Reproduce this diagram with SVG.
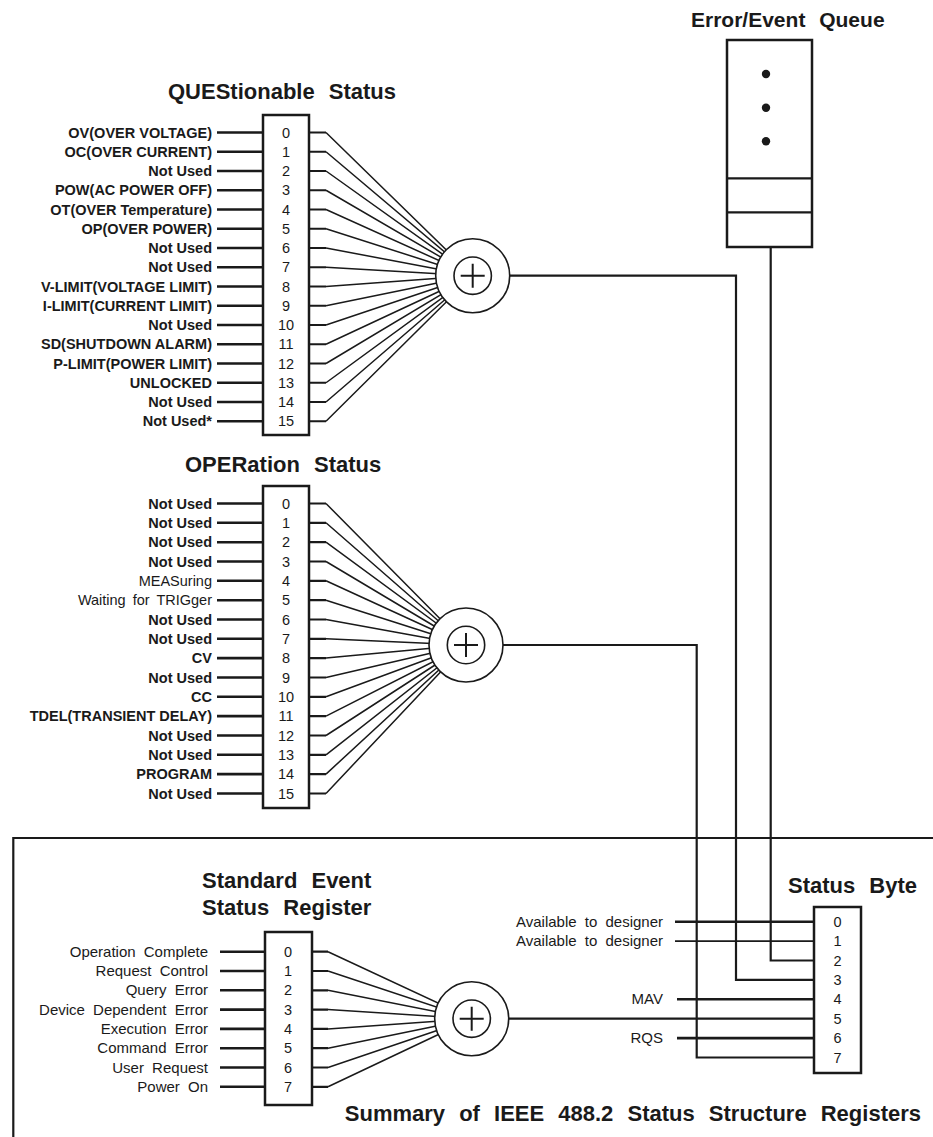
<svg xmlns="http://www.w3.org/2000/svg" width="933" height="1137" viewBox="0 0 933 1137">
<style>
.t{font-family:"Liberation Sans",Arial,Helvetica,sans-serif;fill:#1a1a1a}
.title{font-size:22px;font-weight:bold;word-spacing:8px}
.lb{font-size:14.5px;font-weight:bold;text-anchor:end}
.lr{font-size:15px;text-anchor:end;word-spacing:4px}
.dg{font-size:14.5px;text-anchor:middle}
.box{fill:#fff;stroke:#1a1a1a;stroke-width:2.5}
.in{stroke:#1a1a1a;stroke-width:2.6;fill:none}
.in2{stroke:#1a1a1a;stroke-width:1.8;fill:none}
.stub{stroke:#1a1a1a;stroke-width:2.2;fill:none}
.fan{stroke:#1a1a1a;stroke-width:1.5;fill:none}
.wire{stroke:#1a1a1a;stroke-width:2.2;fill:none}
.sum{fill:#fff;stroke:#1a1a1a;stroke-width:1.6}
.plus{stroke:#1a1a1a;stroke-width:2;fill:none}
</style>
<defs>
<g id="summer">
<circle class="sum" cx="0" cy="0" r="37"/>
<circle class="sum" cx="0" cy="0" r="18.7"/>
<path class="plus" d="M-12 0H12M0 -12V12"/>
</g>
</defs>

<g id="connectors">
<path class="in" d="M217 132.5H263M217 151.75H263M217 171H263M217 190.25H263M217 209.5H263M217 228.75H263M217 248H263M217 267.25H263M217 286.5H263M217 305.75H263M217 325H263M217 344.25H263M217 363.5H263M217 382.75H263M217 402H263M217 421.25H263"/>
<path class="stub" d="M309 132.5H326M309 151.75H326M309 171H326M309 190.25H326M309 209.5H326M309 228.75H326M309 248H326M309 267.25H326M309 286.5H326M309 305.75H326M309 325H326M309 344.25H326M309 363.5H326M309 382.75H326M309 402H326M309 421.25H326"/>
<path class="fan" d="M326 132.5L472.7 275.7M326 151.75L472.7 275.7M326 171L472.7 275.7M326 190.25L472.7 275.7M326 209.5L472.7 275.7M326 228.75L472.7 275.7M326 248L472.7 275.7M326 267.25L472.7 275.7M326 286.5L472.7 275.7M326 305.75L472.7 275.7M326 325L472.7 275.7M326 344.25L472.7 275.7M326 363.5L472.7 275.7M326 382.75L472.7 275.7M326 402L472.7 275.7M326 421.25L472.7 275.7"/>
<path class="in" d="M217 503.5H263M217 522.8H263M217 542.2H263M217 561.5H263M217 580.8H263M217 600.2H263M217 619.5H263M217 638.8H263M217 658.1H263M217 677.5H263M217 696.8H263M217 716.1H263M217 735.5H263M217 754.8H263M217 774.1H263M217 793.5H263"/>
<path class="stub" d="M309 503.5H326M309 522.8H326M309 542.2H326M309 561.5H326M309 580.8H326M309 600.2H326M309 619.5H326M309 638.8H326M309 658.1H326M309 677.5H326M309 696.8H326M309 716.1H326M309 735.5H326M309 754.8H326M309 774.1H326M309 793.5H326"/>
<path class="fan" d="M326 503.5L466 645M326 522.8L466 645M326 542.2L466 645M326 561.5L466 645M326 580.8L466 645M326 600.2L466 645M326 619.5L466 645M326 638.8L466 645M326 658.1L466 645M326 677.5L466 645M326 696.8L466 645M326 716.1L466 645M326 735.5L466 645M326 754.8L466 645M326 774.1L466 645M326 793.5L466 645"/>
<path class="in" d="M220 951.7H265M220 971H265M220 990.3H265M220 1009.6H265M220 1028.9H265M220 1048.2H265M220 1067.5H265M220 1086.8H265"/>
<path class="stub" d="M312 951.7H328M312 971H328M312 990.3H328M312 1009.6H328M312 1028.9H328M312 1048.2H328M312 1067.5H328M312 1086.8H328"/>
<path class="fan" d="M328 951.7L471.7 1018.7M328 971L471.7 1018.7M328 990.3L471.7 1018.7M328 1009.6L471.7 1018.7M328 1028.9L471.7 1018.7M328 1048.2L471.7 1018.7M328 1067.5L471.7 1018.7M328 1086.8L471.7 1018.7"/>
<path class="wire" d="M510 275.7H736V979.9H814"/>
<path class="wire" d="M503 645H696.7V1057.5H814"/>
<path class="wire" d="M770.7 247V960.5H814"/>
<path class="wire" d="M508 1018.7H814"/>
<path class="in" d="M675 921.7H814"/>
<path class="in2" d="M675 941.1H814"/>
<path class="in" d="M677 999.3H814"/>
<path class="in" d="M677 1038.1H814"/>
<path class="wire" d="M13.3 1137V838H933" stroke-width="2.5"/>
</g>

<g id="error-queue">
<text class="t title" x="691" y="27" style="font-size:21px">Error/Event Queue</text>
<rect class="box" x="727" y="40" width="85" height="207"/>
<path class="wire" d="M727 178.3H812M727 212.3H812" stroke-width="2.5"/>
<circle cx="766" cy="74" r="4.2" fill="#1a1a1a"/>
<circle cx="766" cy="107.7" r="4.2" fill="#1a1a1a"/>
<circle cx="766" cy="141.3" r="4.2" fill="#1a1a1a"/>
</g>

<g id="questionable-status">
<text class="t title" x="168" y="99">QUEStionable Status</text>
<rect class="box" x="263" y="115" width="46" height="320"/>
<g class="t lb">
<text x="212" y="137.5">OV(OVER VOLTAGE)</text>
<text x="212" y="156.75">OC(OVER CURRENT)</text>
<text x="212" y="176">Not Used</text>
<text x="212" y="195.25">POW(AC POWER OFF)</text>
<text x="212" y="214.5">OT(OVER Temperature)</text>
<text x="212" y="233.75">OP(OVER POWER)</text>
<text x="212" y="253">Not Used</text>
<text x="212" y="272.25">Not Used</text>
<text x="212" y="291.5">V-LIMIT(VOLTAGE LIMIT)</text>
<text x="212" y="310.75">I-LIMIT(CURRENT LIMIT)</text>
<text x="212" y="330">Not Used</text>
<text x="212" y="349.25">SD(SHUTDOWN ALARM)</text>
<text x="212" y="368.5">P-LIMIT(POWER LIMIT)</text>
<text x="212" y="387.75">UNLOCKED</text>
<text x="212" y="407">Not Used</text>
<text x="212" y="426.25">Not Used*</text>
</g>
<g class="t dg">
<text x="286" y="137.5">0</text><text x="286" y="156.75">1</text><text x="286" y="176">2</text><text x="286" y="195.25">3</text>
<text x="286" y="214.5">4</text><text x="286" y="233.75">5</text><text x="286" y="253">6</text><text x="286" y="272.25">7</text>
<text x="286" y="291.5">8</text><text x="286" y="310.75">9</text><text x="286" y="330">10</text><text x="286" y="349.25">11</text>
<text x="286" y="368.5">12</text><text x="286" y="387.75">13</text><text x="286" y="407">14</text><text x="286" y="426.25">15</text>
</g>
</g>
<g id="questionable-summary"><use href="#summer" x="472.7" y="275.7"/></g>

<g id="operation-status">
<text class="t title" x="185" y="472">OPERation Status</text>
<rect class="box" x="263" y="486" width="46" height="322"/>
<g class="t lb">
<text x="212" y="508.5">Not Used</text>
<text x="212" y="527.8">Not Used</text>
<text x="212" y="547.2">Not Used</text>
<text x="212" y="566.5">Not Used</text>
<text x="212" y="585.8" style="font-weight:normal;word-spacing:3px">MEASuring</text>
<text x="212" y="605.2" style="font-weight:normal;word-spacing:3px">Waiting for TRIGger</text>
<text x="212" y="624.5">Not Used</text>
<text x="212" y="643.8">Not Used</text>
<text x="212" y="663.1">CV</text>
<text x="212" y="682.5">Not Used</text>
<text x="212" y="701.8">CC</text>
<text x="212" y="721.1">TDEL(TRANSIENT DELAY)</text>
<text x="212" y="740.5">Not Used</text>
<text x="212" y="759.8">Not Used</text>
<text x="212" y="779.1">PROGRAM</text>
<text x="212" y="798.5">Not Used</text>
</g>
<g class="t dg">
<text x="286" y="508.5">0</text><text x="286" y="527.8">1</text><text x="286" y="547.2">2</text><text x="286" y="566.5">3</text>
<text x="286" y="585.8">4</text><text x="286" y="605.2">5</text><text x="286" y="624.5">6</text><text x="286" y="643.8">7</text>
<text x="286" y="663.1">8</text><text x="286" y="682.5">9</text><text x="286" y="701.8">10</text><text x="286" y="721.1">11</text>
<text x="286" y="740.5">12</text><text x="286" y="759.8">13</text><text x="286" y="779.1">14</text><text x="286" y="798.5">15</text>
</g>
</g>
<g id="operation-summary"><use href="#summer" x="466" y="645"/></g>

<g id="standard-event-status">
<text class="t title" x="202" y="888">Standard Event</text>
<text class="t title" x="202" y="915">Status Register</text>
<rect class="box" x="265" y="932" width="47" height="173"/>
<g class="t lr">
<text x="208" y="956.7">Operation Complete</text>
<text x="208" y="976">Request Control</text>
<text x="208" y="995.3">Query Error</text>
<text x="208" y="1014.6">Device Dependent Error</text>
<text x="208" y="1033.9">Execution Error</text>
<text x="208" y="1053.2">Command Error</text>
<text x="208" y="1072.5">User Request</text>
<text x="208" y="1091.8">Power On</text>
</g>
<g class="t dg">
<text x="288" y="956.7">0</text><text x="288" y="976">1</text><text x="288" y="995.3">2</text><text x="288" y="1014.6">3</text>
<text x="288" y="1033.9">4</text><text x="288" y="1053.2">5</text><text x="288" y="1072.5">6</text><text x="288" y="1091.8">7</text>
</g>
</g>
<g id="standard-event-summary"><use href="#summer" x="471.7" y="1018.7"/></g>

<g id="status-byte">
<text class="t title" x="788" y="893">Status Byte</text>
<rect class="box" x="814" y="907" width="47" height="166"/>
<g class="t dg">
<text x="837.5" y="926.7">0</text><text x="837.5" y="946.1">1</text><text x="837.5" y="965.5">2</text><text x="837.5" y="984.9">3</text>
<text x="837.5" y="1004.3">4</text><text x="837.5" y="1023.7">5</text><text x="837.5" y="1043.1">6</text><text x="837.5" y="1062.5">7</text>
</g>
<g class="t lr">
<text x="663" y="926.7">Available to designer</text>
<text x="663" y="946.1">Available to designer</text>
<text x="663" y="1004.3">MAV</text>
<text x="663" y="1043.1">RQS</text>
</g>
</g>

<text class="t title" x="921" y="1121" text-anchor="end">Summary of IEEE 488.2 Status Structure Registers</text>
</svg>
